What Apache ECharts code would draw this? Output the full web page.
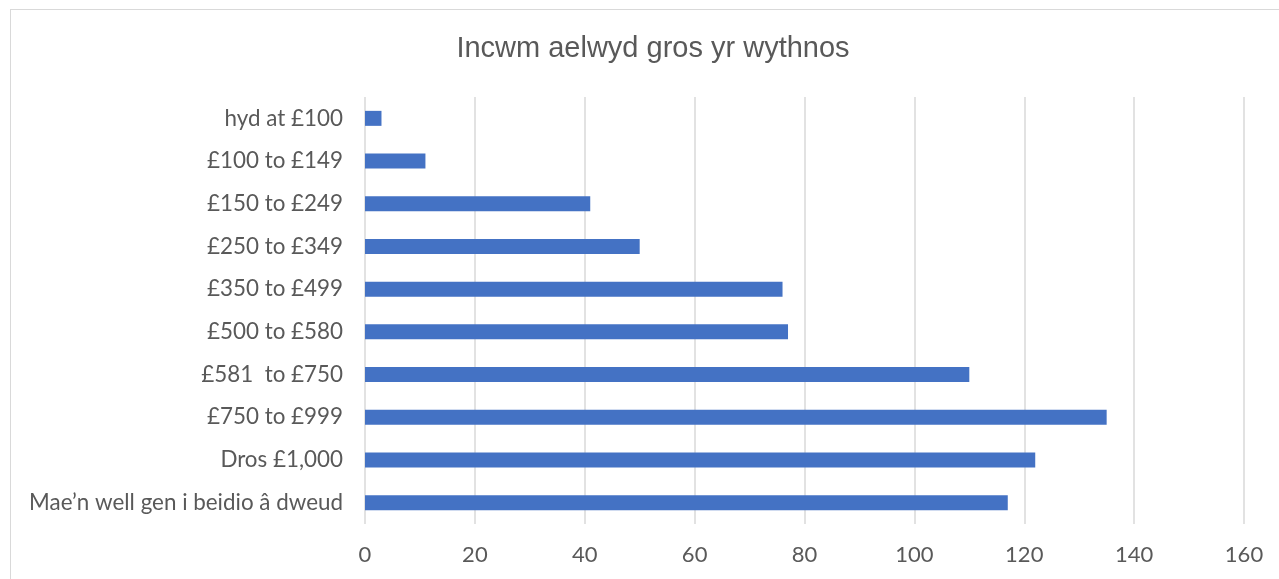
<!DOCTYPE html>
<html><head><meta charset="utf-8">
<script src="https://cdn.jsdelivr.net/npm/echarts@6/dist/echarts.min.js"></script>
<style>
html,body{margin:0;padding:0;background:#fff;}
#frame{position:absolute;left:10px;top:9px;width:1280px;height:600px;border:1px solid #d9d9d9;box-sizing:border-box;}
#c{position:absolute;left:0;top:0;width:1279px;height:579px;}
</style></head>
<body>
<div id="frame"></div>
<div id="c"></div>
<script>
const titleText = 'Incwm aelwyd gros yr wythnos';
const categories = ['hyd at £100','£100 to £149','£150 to £249','£250 to £349','£350 to £499','£500 to £580','£581  to £750','£750 to £999','Dros £1,000','Mae\u2019n well gen i beidio â dweud'];
const values = [3, 11, 41, 50, 76, 77, 110, 135, 122, 117];
const xTicks = {min: 0, max: 160, interval: 20};

const chart = echarts.init(document.getElementById('c'), null, {renderer: 'canvas'});
chart.setOption({
  animation: false,
  backgroundColor: 'transparent',
  title: {
    text: titleText, left: 648, top: 29, textAlign: 'center',
    textStyle: {fontFamily: 'Liberation Sans', fontSize: 29, fontWeight: 'normal', color: '#595959'}
  },
  grid: {left: 365, right: 35, top: 97, height: 427, containLabel: false},
  xAxis: {
    type: 'value', min: xTicks.min, max: xTicks.max, interval: xTicks.interval,
    axisLine: {show: false}, axisTick: {show: false},
    splitLine: {lineStyle: {color: '#d9d9d9', width: 1.5}},
    axisLabel: {fontFamily: 'Lato', fontSize: 22, color: '#595959', margin: 20}
  },
  yAxis: {
    type: 'category', data: categories, inverse: true,
    axisLine: {show: false}, axisTick: {show: false},
    axisLabel: {fontFamily: 'Lato', fontSize: 22.4, color: '#595959', margin: 22}
  },
  series: [{
    type: 'bar', data: values, barWidth: 15,
    itemStyle: {color: '#4472c4'}
  }]
});
</script>
</body></html>
